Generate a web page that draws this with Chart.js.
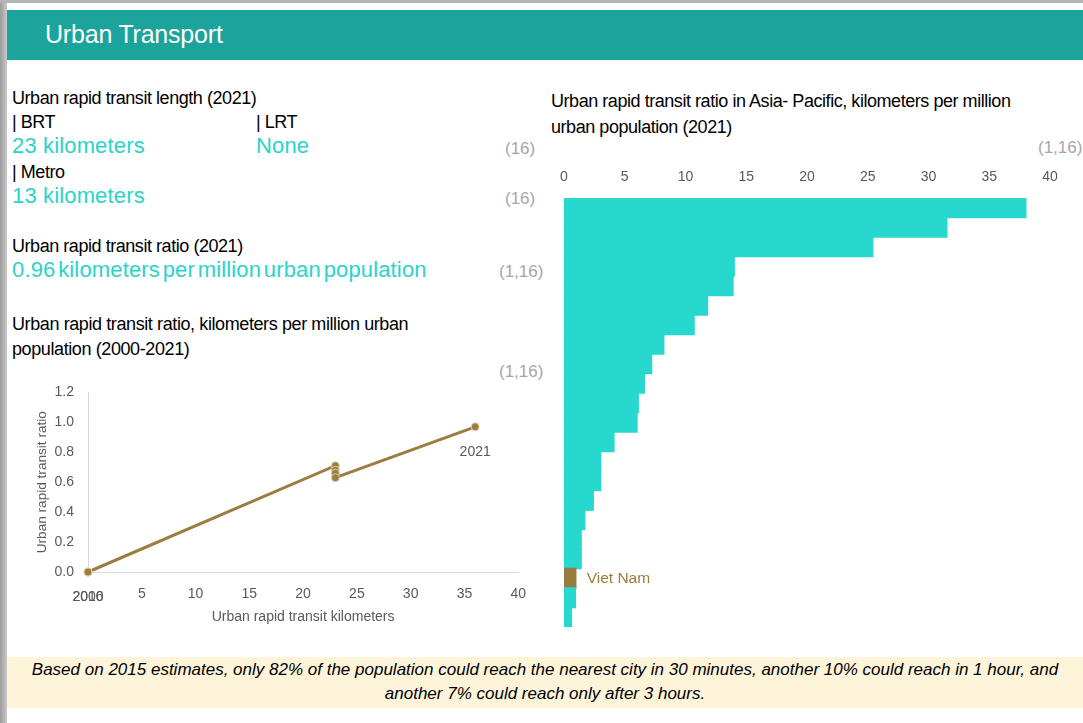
<!DOCTYPE html>
<html>
<head>
<meta charset="utf-8">
<script src="https://cdn.jsdelivr.net/npm/chart.js@4.4.1/dist/chart.umd.min.js"></script>
<style>
  html, body { margin: 0; padding: 0; background: #fff; }
  body { width: 1083px; height: 723px; position: relative; overflow: hidden; font-family: 'Liberation Sans', Arial, sans-serif; }
  .abs { position: absolute; white-space: nowrap; }
  #leftframe { left: 0; top: 0; width: 7px; height: 723px; background: linear-gradient(to right, #9c9c9c, #c9c9c9); }
  #topframe { left: 0; top: 0; width: 1083px; height: 3px; background: #b4b4b4; }
  #header { left: 7px; top: 10px; width: 1076px; height: 50px; background: #1BA39C; }
  #header span { position: absolute; left: 38px; top: 10px; font-size: 25px; line-height: 28px; color: #fff; letter-spacing: -0.2px; }
  .lbl { font-size: 18px; line-height: 20px; letter-spacing: -0.45px; color: #000; }
  .val { font-size: 22px; line-height: 24px; letter-spacing: 0.15px; color: #2BD3CA; }
  .src { font-size: 17px; line-height: 20px; color: #A6A6A6; }
  #footer { left: 7px; top: 657px; width: 1076px; height: 51px; background: #FEF4DA; }
  #footer div { position: absolute; left: 0; width: 1076px; text-align: center; font-style: italic; font-size: 17px; line-height: 24px; letter-spacing: 0px; color: #000; }
  canvas { position: absolute; }
</style>
</head>
<body>
<div id="leftframe" class="abs"></div>
<div id="topframe" class="abs"></div>
<div id="header" class="abs"><span>Urban Transport</span></div>

<div class="abs lbl" style="left:12px;top:88px;">Urban rapid transit length (2021)</div>
<div class="abs lbl" style="left:12px;top:112px;">| BRT</div>
<div class="abs lbl" style="left:256px;top:112px;">| LRT</div>
<div class="abs val" style="left:12px;top:134px;">23 kilometers</div>
<div class="abs val" style="left:256px;top:134px;">None</div>
<div class="abs src" style="left:505px;top:139px;">(16)</div>
<div class="abs lbl" style="left:12px;top:162px;">| Metro</div>
<div class="abs val" style="left:12px;top:184px;">13 kilometers</div>
<div class="abs src" style="left:505px;top:189px;">(16)</div>
<div class="abs lbl" style="left:12px;top:236px;">Urban rapid transit ratio (2021)</div>
<div class="abs val" style="left:12px;top:258px;word-spacing:-3.5px;">0.96 kilometers per million urban population</div>
<div class="abs src" style="left:499px;top:262px;">(1,16)</div>
<div class="abs lbl" style="left:12px;top:312px;line-height:25px;letter-spacing:-0.4px;">Urban rapid transit ratio, kilometers per million urban<br>population (2000-2021)</div>
<div class="abs src" style="left:499px;top:362px;">(1,16)</div>

<div class="abs lbl" style="left:551px;top:88px;line-height:26px;">Urban rapid transit ratio in Asia- Pacific, kilometers per million<br>urban population (2021)</div>
<div class="abs src" style="left:1038px;top:138px;">(1,16)</div>

<canvas id="lineChart" width="520" height="261" style="left:20px;top:370px;"></canvas>
<canvas id="barChart" width="540" height="490" style="left:540px;top:150px;"></canvas>

<div id="footer" class="abs">
  <div style="top:1px;">Based on 2015 estimates, only 82% of the population could reach the nearest city in 30 minutes, another 10% could reach in 1 hour, and</div>
  <div style="top:25px;">another 7% could reach only after 3 hours.</div>
</div>

<script>
// ---- Data: urban rapid transit over time (left chart) ----
const years = ['2000','2001','2002','2003','2004','2005','2006','2007','2008','2009','2010',
               '2011','2012','2013','2014','2015','2016','2017','2018','2019','2020','2021'];
const transitKm = [0,0,0,0,0,0,0,0,0,0,0,0,0,0,0,0,0,23,23,23,23,36];
const transitRatio = [0,0,0,0,0,0,0,0,0,0,0,0,0,0,0,0,0,0.71,0.68,0.66,0.63,0.97];
const labeledYears = ['2000','2016','2021'];
const lineXTicks = [0,5,10,15,20,25,30,35,40];
const lineYTicks = [0,0.2,0.4,0.6,0.8,1.0,1.2];

// ---- Data: Asia-Pacific comparison (right chart) ----
const economies = ['','','','','','','','','','','','','','','','','','','','Viet Nam','',''];
const ratioKmPerMillion = [38.0,31.5,25.4,14.0,13.9,11.8,10.7,8.2,7.2,6.6,6.1,6.0,4.1,3.0,3.0,2.4,1.7,1.4,1.4,0.96,0.93,0.6];
const highlightEconomy = 'Viet Nam';
const barXTicks = [0,5,10,15,20,25,30,35,40];

const TICK_COLOR = '#595959';
const GOLD = '#9A7D3F';
const TURQ = '#26D8CE';
const FONT = "'Liberation Sans', Arial, sans-serif";

Chart.defaults.font.family = FONT;

// Year labels below selected points
const yearLabelPlugin = {
  id: 'yearLabels',
  afterDatasetsDraw(chart) {
    const ctx = chart.ctx;
    const meta = chart.getDatasetMeta(0);
    ctx.save();
    ctx.font = "14px " + FONT;
    ctx.fillStyle = TICK_COLOR;
    ctx.textAlign = 'center';
    ctx.textBaseline = 'middle';
    labeledYears.forEach(y => {
      const i = years.indexOf(y);
      const el = meta.data[i];
      if (el) ctx.fillText(y, el.x, el.y + 25);
    });
    ctx.restore();
  }
};

new Chart(document.getElementById('lineChart'), {
  type: 'scatter',
  data: {
    datasets: [{
      data: years.map((y, i) => ({x: transitKm[i], y: transitRatio[i]})),
      showLine: true,
      clip: false,
      borderColor: GOLD,
      borderWidth: 3,
      pointRadius: 4,
      pointBackgroundColor: GOLD,
      pointBorderColor: 'rgba(230,215,180,0.9)',
      pointBorderWidth: 1
    }]
  },
  options: {
    responsive: false,
    animation: false,
    layout: { padding: { left: 10, right: 13, top: 14, bottom: 0 } },
    plugins: { legend: { display: false }, tooltip: { enabled: false } },
    scales: {
      x: {
        type: 'linear', min: 0, max: 40,
        afterBuildTicks: s => { s.ticks = lineXTicks.map(v => ({value: v})); },
        afterFit: s => { s.height = 59; },
        grid: { display: false, drawTicks: false },
        border: { display: true, color: '#D9D9D9', width: 1 },
        ticks: { color: TICK_COLOR, font: { size: 14 }, padding: 14, maxRotation: 0,
                 callback: v => v === 0 ? '' : String(v) },
        title: { display: true, text: 'Urban rapid transit kilometers', color: TICK_COLOR,
                 font: { size: 14 }, padding: { top: 4, bottom: 5 } }
      },
      y: {
        type: 'linear', min: 0, max: 1.2,
        afterBuildTicks: s => { s.ticks = lineYTicks.map(v => ({value: v})); },
        afterFit: s => { s.width = 58; },
        grid: { display: false, drawTicks: false },
        border: { display: true, color: '#D9D9D9', width: 1 },
        ticks: { color: TICK_COLOR, font: { size: 14 }, padding: 14, callback: v => v.toFixed(1) },
        title: { display: true, text: 'Urban rapid transit ratio', color: TICK_COLOR,
                 font: { size: 13.6 }, padding: { top: 4, bottom: 4 } }
      }
    }
  },
  plugins: [yearLabelPlugin]
});

// Label beside highlighted bar
const highlightLabelPlugin = {
  id: 'highlightLabel',
  afterDatasetsDraw(chart) {
    const i = economies.indexOf(highlightEconomy);
    const el = chart.getDatasetMeta(0).data[i];
    if (!el) return;
    const ctx = chart.ctx;
    ctx.save();
    ctx.font = "15.5px " + FONT;
    ctx.fillStyle = GOLD;
    ctx.textAlign = 'left';
    ctx.textBaseline = 'middle';
    ctx.fillText(highlightEconomy, el.x + 11, el.y);
    ctx.restore();
  }
};

new Chart(document.getElementById('barChart'), {
  type: 'bar',
  data: {
    labels: economies,
    datasets: [{
      data: ratioKmPerMillion,
      backgroundColor: economies.map(e => e === highlightEconomy ? '#977C42' : TURQ),
      borderWidth: 0,
      inflateAmount: 0.8,
      barPercentage: 1.0,
      categoryPercentage: 1.0
    }]
  },
  options: {
    indexAxis: 'y',
    responsive: false,
    animation: false,
    layout: { padding: { left: 24, right: 30, top: 0, bottom: 13 } },
    plugins: { legend: { display: false }, tooltip: { enabled: false } },
    scales: {
      x: {
        position: 'top', type: 'linear', min: 0, max: 40,
        afterBuildTicks: s => { s.ticks = barXTicks.map(v => ({value: v})); },
        afterFit: s => { s.height = 48; },
        grid: { display: false, drawTicks: false },
        border: { display: false },
        ticks: { color: TICK_COLOR, font: { size: 14 }, padding: 12, maxRotation: 0 }
      },
      y: {
        grid: { display: false, drawTicks: false },
        border: { display: false },
        ticks: { display: false },
        afterFit: s => { s.width = 0; }
      }
    }
  },
  plugins: [highlightLabelPlugin]
});
</script>
</body>
</html>
